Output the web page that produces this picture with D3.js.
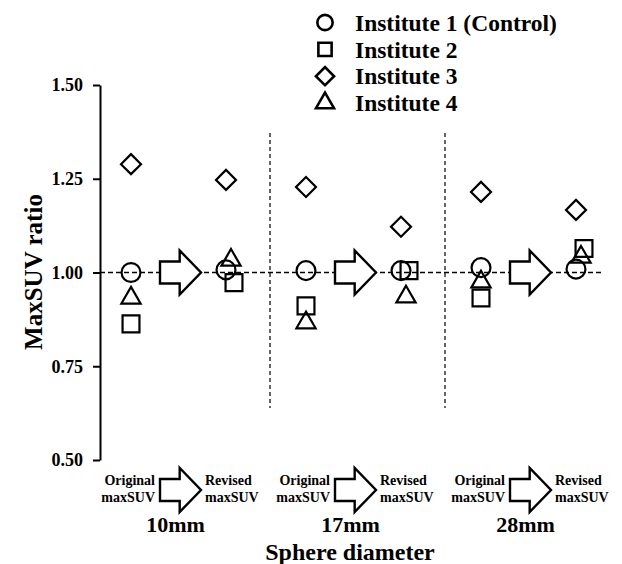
<!DOCTYPE html>
<html>
<head>
<meta charset="utf-8">
<script src="https://cdn.jsdelivr.net/npm/d3@7"></script>
<style>
  body { margin: 0; background: #fff; }
  svg text { font-family: "Liberation Serif", "Times New Roman", serif; font-weight: bold; fill: #000; }
</style>
</head>
<body>
<svg id="chart" width="622" height="564"></svg>
<script>
// sphere sizes and the two stages shown in each group
const groups = ["10mm", "17mm", "28mm"];
const stages = ["Original", "Revised"];
const institutes = ["Institute 1 (Control)", "Institute 2", "Institute 3", "Institute 4"];

// maxSUV ratio per column: 10mm orig, 10mm rev, 17mm orig, 17mm rev, 28mm orig, 28mm rev
const inst1 = [1.000, 1.007, 1.005, 1.005, 1.013, 1.009];
const inst2 = [0.863, 0.973, 0.911, 1.005, 0.932, 1.064];
const inst3 = [1.289, 1.247, 1.228, 1.122, 1.215, 1.167];
const inst4 = [0.932, 1.033, 0.866, 0.935, 0.975, 1.041];

const yTicks = [0.50, 0.75, 1.00, 1.25, 1.50];
const stageLines = { Original: ["Original", "maxSUV"], Revised: ["Revised", "maxSUV"] };

const svg = d3.select("#chart");

const y = d3.scaleLinear().domain([0.5, 1.5]).range([460, 85]);
const x = d3.scaleBand().domain(groups).range([95, 620]);
const xs = d3.scalePoint().domain(stages).range([36, 131]);

// marker shapes, one per institute (size in plot, size in legend)
const shapes = [
  { type: d3.symbolCircle, size: 280, leg: 185, rot: 0 },
  { type: d3.symbolSquare, size: 285, leg: 175, rot: 0 },
  { type: d3.symbolSquare, size: 200, leg: 165, rot: 45 },
  { type: d3.symbolTriangle, size: 160, leg: 140, rot: 0 }
];
// small sideways shift in the revised column so markers don't hide each other
const dodge = [0, 8, 0, 5];

// y axis
const yAxis = svg.append("g")
  .attr("transform", "translate(100,0)")
  .call(d3.axisLeft(y).tickValues(yTicks).tickFormat(d3.format(".2f")).tickSize(7).tickSizeOuter(0).tickPadding(10));
yAxis.select(".domain").attr("stroke", "#000").attr("stroke-width", 2);
yAxis.selectAll(".tick line").attr("stroke", "#000").attr("stroke-width", 2);
yAxis.selectAll(".tick text").style("font-size", "18px");

svg.append("text")
  .attr("transform", `translate(42,272) rotate(-90)`)
  .attr("text-anchor", "middle")
  .style("font-size", "25px")
  .text("MaxSUV ratio");

// reference line at 1.00
svg.append("line")
  .attr("x1", 100).attr("x2", 601)
  .attr("y1", y(1)).attr("y2", y(1))
  .attr("stroke", "#000").attr("stroke-width", 1.6)
  .attr("stroke-dasharray", "5,3");

// separators between groups
groups.slice(1).forEach(g => {
  svg.append("line")
    .attr("x1", x(g)).attr("x2", x(g))
    .attr("y1", y(1.372)).attr("y2", y(0.639))
    .attr("stroke", "#000").attr("stroke-width", 1.2)
    .attr("stroke-dasharray", "4,3");
});

const arrowW = 41, arrowH = 44;
function arrowPath(cx, cy) {
  const l = cx - arrowW / 2, r = cx + arrowW / 2, hs = l + arrowW * 0.48;
  return `M${l},${cy - arrowH / 4}L${hs},${cy - arrowH / 4}L${hs},${cy - arrowH / 2}L${r},${cy}` +
         `L${hs},${cy + arrowH / 2}L${hs},${cy + arrowH / 4}L${l},${cy + arrowH / 4}Z`;
}
const arrowX = g => x(g) + (xs("Original") + xs("Revised")) / 2 + 2;

groups.forEach(g => {
  const cx = arrowX(g);
  // arrow inside the plot
  svg.append("path").attr("d", arrowPath(cx, y(1)))
    .attr("fill", "#fff").attr("stroke", "#000").attr("stroke-width", 2.4);
  // arrow under the axis
  svg.append("path").attr("d", arrowPath(cx, 490))
    .attr("fill", "#fff").attr("stroke", "#000").attr("stroke-width", 2.4);

  const left = svg.append("text").attr("text-anchor", "end").style("font-size", "14px");
  stageLines.Original.forEach((t, i) => left.append("tspan").attr("x", cx - arrowW / 2 - 5).attr("y", 485 + i * 17).text(t));
  const right = svg.append("text").attr("text-anchor", "start").style("font-size", "14px");
  stageLines.Revised.forEach((t, i) => right.append("tspan").attr("x", cx + arrowW / 2 + 4).attr("y", 485 + i * 17).text(t));

  svg.append("text")
    .attr("x", cx - 5).attr("y", 532)
    .attr("text-anchor", "middle")
    .style("font-size", "22px")
    .text(g);
});

svg.append("text")
  .attr("x", 350).attr("y", 560)
  .attr("text-anchor", "middle")
  .style("font-size", "24px")
  .text("Sphere diameter");

// points
const series = [inst1, inst2, inst3, inst4];
const cols = groups.flatMap(g => stages.map(s => ({ g, s })));
series.forEach((vals, k) => {
  const sh = shapes[k];
  const sym = d3.symbol().type(sh.type).size(sh.size);
  svg.append("g").selectAll("path")
    .data(vals.map((v, i) => ({ v, g: cols[i].g, s: cols[i].s })))
    .join("path")
    .attr("d", sym)
    .attr("transform", d => {
      const px = x(d.g) + xs(d.s) + (d.s === "Revised" ? dodge[k] : 0);
      return `translate(${px},${y(d.v)}) rotate(${sh.rot})`;
    })
    .attr("fill", "none")
    .attr("stroke", "#000")
    .attr("stroke-width", 2.2);
});

// legend
const legendY = d3.scalePoint().domain(institutes).range([22.5, 103]);
institutes.forEach((name, k) => {
  const sh = shapes[k];
  svg.append("path")
    .attr("d", d3.symbol().type(sh.type).size(sh.leg))
    .attr("transform", `translate(325,${legendY(name)}) rotate(${sh.rot})`)
    .attr("fill", "none").attr("stroke", "#000").attr("stroke-width", 2.6);
  svg.append("text")
    .attr("x", 355).attr("y", legendY(name)).attr("dy", "0.35em")
    .style("font-size", "23.5px")
    .text(name);
});
</script>
</body>
</html>
